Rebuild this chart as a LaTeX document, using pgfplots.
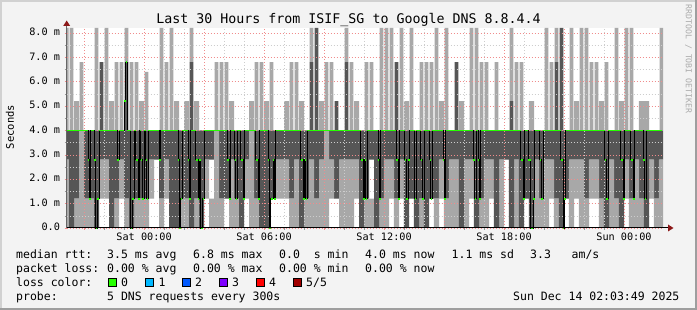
\documentclass[border=0pt]{standalone}
\usepackage{pgfplots}
\pgfplotsset{compat=1.18}
\usepackage{pgfplotstable}
\usepackage{fontspec}
\setmainfont{DejaVu Sans Mono}
\setmonofont{DejaVu Sans Mono}
\definecolor{canvas}{RGB}{243,243,243}
\definecolor{smokeL}{RGB}{168,168,168}
\definecolor{smokeD}{RGB}{86,86,86}
\definecolor{gridR}{RGB}{240,140,140}
\definecolor{gridG}{RGB}{205,205,205}
\definecolor{medG}{RGB}{38,255,0}
\definecolor{arrowR}{RGB}{140,24,24}
\definecolor{lossA}{RGB}{0,184,255}
\definecolor{lossB}{RGB}{0,89,255}
\definecolor{lossC}{RGB}{126,0,255}
\definecolor{lossD}{RGB}{255,0,0}
\definecolor{lossE}{RGB}{161,0,0}

% smoke below 4 ms: gap g, dark a, light b, gap c, dark d (stacked heights)
% smoke above 4 ms: base u, dark ud, light ul (narrow spikes), w (wide block 4-5.2)
\pgfplotstableread{
x g a b c d u ud ul w
-3.875 0 0 2.8 0 1.2 4 0 4.2 0
-3.625 0 4 0 0 0 4 0 4.2 0
-3.375 0 0 1.2 0 2.8 4 0 1.2 1.2
-3.125 0 0 4 0 0 4 0 2.8 0
-2.875 0 0 1.2 0 2.8 4 0 0 0
-2.625 0 0 1.2 0 2.8 4 0 0 0
-2.375 0 4 0 0 0 4 0 4.2 0
-2.125 1.2 0 1.6 0 1.2 4 2.8 0 0
-1.875 1.2 0 1.6 0 1.2 4 0 4.2 0
-1.625 0 4 0 0 0 4 0 1.2 1.2
-1.375 0 0 1.2 0 2.8 4 0 2.8 0
-1.125 1.2 0 1.6 0 1.2 4 0 2.8 0
-0.875 0 0 1.2 0 2.8 4 2.8 1.4 0
-0.625 0 4 0 0 0 4 0 2.8 0
-0.375 0 0 1.2 0 2.8 4 0 2.8 0
-0.125 0 0 1.2 0 2.8 4 0 1.2 1.2
0.125 0 0 1.2 0 2.8 4 0 2.4 0
0.375 1.2 0 1.6 0 1.2 4 0 0 0
0.625 2.8 0 0 0 1.2 4 0 0 0
0.875 0 0 1.2 0 2.8 4 0 4.2 0
1.125 1.2 0 1.6 0 1.2 4 0 2.8 0
1.375 0 4 0 0 0 4 0 4.2 0
1.625 0 4 0 0 0 4 0 1.2 1.2
1.875 0 0 1.2 0 2.8 4 0 0 0
2.125 0 0 1.2 0 2.8 4 0 1.2 1.2
2.375 0 4 0 0 0 4 2.8 1.4 0
2.625 0 0 1.2 0 2.8 4 0 1.2 1.2
2.875 0 4 0 0 0 4 0 0 0
3.125 1.2 0 1.6 0 1.2 4 0 0 0
3.375 0 0 1.2 1.6 1.2 4 0 0 0
3.625 0 0 4 0 0 4 0 2.8 0
3.875 0 0 1.2 0 2.8 4 0 2.8 0
4.125 1.2 0 0 0 2.8 4 0 2.8 0
4.375 0 0 2.8 0 1.2 4 0 1.2 1.2
4.625 0 0 1.2 0 2.8 4 0 0 0
4.875 0 4 0 0 0 4 0 0 0
5.125 1.2 0 1.6 0 1.2 4 0 0 0
5.375 0 0 4 0 0 4 0 1.2 1.2
5.625 0 0 1.2 0 2.8 4 0 2.8 0
5.875 0 4 0 0 0 4 0 2.8 0
6.125 0 4 0 0 0 4 0 1.2 1.2
6.375 1.2 0 0 0 2.8 4 0 2.8 0
6.625 1.2 0 1.6 0 1.2 4 0 0 0
6.875 1.2 0 1.6 0 1.2 4 0 0 0
7.125 1.2 0 1.6 0 1.2 4 0 1.2 1.2
7.375 0 0 1.2 0 2.8 4 0 2.8 0
7.625 0 0 2.8 0 1.2 4 0 2.8 0
7.875 0 4 0 0 0 4 0 1.2 1.2
8.125 0 0 1.2 0 2.8 4 0 0 0
8.375 0 0 2.8 0 1.2 4 2.8 1.4 0
8.625 0 0 1.2 0 2.8 4 4.2 0 0
8.875 0 0 2.8 0 1.2 4 0 1.2 1.2
9.125 0 0 4 0 0 4 0 2.8 0
9.375 1.2 0 1.6 0 1.2 4 0 2.8 0
9.625 1.2 0 0 0 2.8 4 1.2 0 0
9.875 0 0 2.8 0 1.2 4 0 0 0
10.125 0 0 2.8 0 1.2 4 2.8 1.4 0
10.375 0 0 2.8 0 1.2 4 0 2.8 0
10.625 1.2 0 1.6 0 1.2 4 0 1.2 1.2
10.875 0 4 0 0 0 4 0 0 0
11.125 0 0 1.2 0 2.8 4 0 2.8 0
11.375 0 0 1.2 1.6 1.2 4 0 2.8 0
11.625 0 4 0 0 0 4 0 0 0
11.875 0 0 1.2 0 2.8 4 0 4.2 0
12.125 0 0 2.8 0 1.2 4 0 4.2 0
12.375 1.2 0 1.6 0 1.2 4 0 4.2 0
12.625 0 0 1.2 0 2.8 4 2.8 0 0
12.875 1.2 0 1.6 0 1.2 4 0 4.2 0
13.125 0 4 0 0 0 4 0 1.2 1.2
13.375 1.2 0 0 0 2.8 4 0 4.2 0
13.625 0 4 0 0 0 4 0 0 0
13.875 0 0 1.2 0 2.8 4 0 2.8 0
14.125 0 4 0 0 0 4 0 2.8 0
14.375 1.2 0 0 0 2.8 4 0 2.8 0
14.625 0 0 1.2 0 2.8 4 0 4.2 0
14.875 1.2 0 1.6 0 1.2 4 0 1.2 1.2
15.125 0 0 1.2 0 2.8 4 0 4.2 0
15.375 0 0 2.8 0 1.2 4 0 0 0
15.625 0 0 2.8 0 1.2 4 2.8 0 0
15.875 0 4 0 0 0 4 0 1.2 1.2
16.125 0 0 2.8 0 1.2 4 0 0 0
16.375 1.2 0 1.6 0 1.2 4 0 4.2 0
16.625 0 4 0 0 0 4 0 4.2 0
16.875 0 0 1.2 0 2.8 4 0 2.8 0
17.125 0 0 2.8 0 1.2 4 0 2.8 0
17.375 1.2 0 1.6 0 1.2 4 0 0 0
17.625 0 4 0 0 0 4 0 2.8 0
17.875 0 0 2.8 0 1.2 4 0 0 0
18.125 2.8 0 0 0 1.2 4 0 0 0
18.375 0 4 0 0 0 4 1.2 3.0 0
18.625 0 0 2.8 0 1.2 4 0 2.8 0
18.875 0 4 0 0 0 4 0 2.8 0
19.125 1.2 0 0 0 2.8 4 0 0 0
19.375 0 4 0 0 0 4 0 1.2 1.2
19.625 0 0 2.8 0 1.2 4 0 0 0
19.875 0 0 1.2 0 2.8 4 0 0 0
20.125 0 0 2.8 0 1.2 4 0 4.2 0
20.375 1.2 0 1.6 0 1.2 4 0 2.8 0
20.625 0 0 1.2 0 2.8 4 2.8 1.4 0
20.875 0 4 0 0 0 4 4.2 0 0
21.125 1.2 0 0 0 2.8 4 0 0 0
21.375 0 0 2.8 0 1.2 4 0 4.2 0
21.625 1.2 0 1.6 0 1.2 4 0 1.2 1.2
21.875 0 0 2.8 0 1.2 4 0 4.2 0
22.125 0 0 1.2 0 2.8 4 0 4.2 0
22.375 1.2 0 1.6 0 1.2 4 0 2.8 0
22.625 1.2 0 1.6 0 1.2 4 0 2.8 0
22.875 0 0 1.2 0 2.8 4 0 1.2 1.2
23.125 0 4 0 0 0 4 0 2.8 0
23.375 0 0 2.8 0 1.2 4 0 0 0
23.625 0 0 1.2 0 2.8 4 0 4.2 0
23.875 0 4 0 0 0 4 0 1.2 1.2
24.125 1.2 0 1.6 0 1.2 4 0 4.2 0
24.375 0 0 1.2 0 2.8 4 0 4.2 0
24.625 0 0 2.8 0 1.2 4 0 0 0
24.875 0 0 1.2 0 2.8 4 0 1.2 1.2
25.125 0 4 0 0 0 4 0 1.2 1.2
25.375 1.2 0 1.6 0 1.2 4 0 0 0
25.625 0 0 1.2 0 2.8 4 0 0 0
25.875 0 0 2.8 0 1.2 4 0 4.2 0
}\smoke

% median rtt (ms), step series
\pgfplotstableread{
x y
-3.87 4.0
-2.8 2.8
-2.75 1.2
-2.67 4.0
-2.5 2.8
-2.42 0
-2.33 1.2
-2.25 4.0
-1.33 2.8
-1.25 4.0
-1.0 5.2
-0.92 6.8
-0.83 4.0
-0.67 0
-0.58 1.2
-0.5 4.0
-0.42 2.8
-0.3 1.2
-0.22 4.0
-0.17 2.8
-0.08 1.2
0.0 4.0
0.08 2.8
0.13 1.2
0.21 4.0
0.75 2.8
0.83 4.0
1.7 2.8
1.75 0
1.83 1.2
1.92 4.0
2.2 2.8
2.25 1.2
2.33 4.0
2.58 2.8
2.7 1.2
2.75 2.8
2.83 0
2.93 1.2
3.02 4.0
4.17 2.8
4.25 1.2
4.33 4.0
4.53 2.8
4.58 1.2
4.67 4.0
4.83 2.8
4.95 1.2
5.03 4.0
5.58 2.8
5.7 1.2
5.78 4.0
6.2 2.8
6.25 0
6.33 1.2
6.45 2.8
6.5 1.2
6.58 4.0
7.83 2.8
7.95 1.2
8.03 2.8
8.08 1.2
8.17 4.0
10.83 2.8
10.95 1.2
11.03 2.8
11.08 1.2
11.17 4.0
11.7 2.8
11.75 1.2
11.83 4.0
12.6 2.8
12.7 1.2
12.78 4.0
13.03 2.8
13.12 1.2
13.2 2.8
13.28 4.0
13.53 1.2
13.62 4.0
13.83 2.8
13.92 1.2
14.0 4.0
14.28 2.8
14.33 1.2
14.42 4.0
14.95 2.8
15.0 1.2
15.08 4.0
16.45 2.8
16.53 1.2
16.62 4.0
16.7 2.8
16.75 1.2
16.83 4.0
18.83 2.8
18.95 1.2
19.03 4.0
19.2 2.8
19.33 0
19.45 1.2
19.53 4.0
19.78 2.8
19.87 1.2
19.95 4.0
20.83 2.8
20.95 0
21.0 1.2
21.08 4.0
23.03 2.8
23.12 1.2
23.2 4.0
23.83 2.8
23.95 1.2
24.03 4.0
24.33 2.8
24.45 1.2
24.53 4.0
24.95 2.8
25.03 1.2
25.12 4.0
25.9 4.0
}\median

\pgfplotsset{
  geom/.style={at={(66.7pt,82pt)}, anchor=south west, scale only axis,
    width=596.3pt, height=200pt, xmin=-3.87, xmax=25.95, ymin=0, ymax=8.2},
}

\begin{document}
\begin{tikzpicture}[x=1pt,y=1pt]
\fill[canvas] (0,0) rectangle (697,310);
\fill[black!18] (0,308) rectangle (697,310);
\fill[black!18] (0,0) rectangle (2,310);
\fill[black!38] (0,0) rectangle (697,2);
\fill[black!38] (695,0) rectangle (697,310);
\fill[white] (66.7,82) rectangle (663,282);

\begin{axis}[geom, hide axis, ybar stacked, bar width=0.255, bar shift=0pt]
\addplot[draw=none, fill=none] table[x=x,y=g]{\smoke};
\addplot[draw=none, fill=smokeD] table[x=x,y=a]{\smoke};
\addplot[draw=none, fill=smokeL] table[x=x,y=b]{\smoke};
\addplot[draw=none, fill=none] table[x=x,y=c]{\smoke};
\addplot[draw=none, fill=smokeD] table[x=x,y=d]{\smoke};
\addplot[draw=none, fill=smokeL] table[x=x,y=w]{\smoke};
\end{axis}

\begin{axis}[geom, hide axis, ybar stacked, bar width=0.19, bar shift=0pt]
\addplot[draw=none, fill=none] table[x=x,y=u]{\smoke};
\addplot[draw=none, fill=smokeD] table[x=x,y=ud]{\smoke};
\addplot[draw=none, fill=smokeL] table[x=x,y=ul]{\smoke};
\end{axis}

\begin{axis}[geom, clip=false,
  axis line style={draw=none},
  xtick={-3,0,...,24},
  xticklabels={,Sat 00:00,,Sat 06:00,,Sat 12:00,,Sat 18:00,,Sun 00:00},
  minor x tick num=2,
  ytick={0,1,...,8},
  yticklabels={0.0,1.0 m,2.0 m,3.0 m,4.0 m,5.0 m,6.0 m,7.0 m,8.0 m},
  minor y tick num=1,
  grid=both,
  major grid style={gridR, dash pattern=on 1pt off 2pt, line width=0.6pt},
  minor grid style={gridG, dash pattern=on 1pt off 2pt, line width=0.6pt},
  tick align=outside, xtick pos=bottom, ytick pos=left,
  major tick length=2pt, minor tick length=2pt,
  major tick style={gridR, line width=0.6pt},
  minor tick style={black!40, line width=0.6pt},
  xticklabel style={font=\fontsize{10.2}{12}\selectfont, anchor=base, inner sep=0pt, yshift=-11pt},
  yticklabel style={font=\fontsize{10.2}{12}\selectfont, anchor=mid east, inner sep=0pt, xshift=-4.5pt},
]
\addplot[black, line width=0.8pt, const plot mark left] table[x=x,y=y]{\median};
\addplot[medG, line width=1.6pt, jump mark left] table[x=x,y=y]{\median};
\end{axis}

% axes with arrows
\draw[black, line width=1pt] (66.7,82) -- (668,82);
\draw[black!60, line width=0.8pt] (66.7,82) -- (66.7,284);
\fill[arrowR] (668,78.5) -- (673.5,82) -- (668,85.5) -- cycle;
\fill[arrowR] (63.2,284) -- (66.7,289.5) -- (70.2,284) -- cycle;

% titles
\node[font=\fontsize{13.3}{15}\selectfont, anchor=base] at (348.5,286.5) {Last 30 Hours from ISIF\_SG to Google DNS 8.8.4.4};
\node[font=\fontsize{10.5}{12}\selectfont, rotate=90, anchor=center] at (10,183) {Seconds};
\node[font=\fontsize{8.2}{10}\selectfont, rotate=-90, anchor=center, text=black!33] at (688.5,251) {RRDTOOL / TOBI OETIKER};

% legend
\begin{scope}[every node/.style={anchor=base west, inner sep=0pt, font=\fontsize{11.5}{13}\selectfont}]
\node at (16,51.5) {median rtt:};
\node at (107,51.5) {3.5 ms avg};
\node at (193,51.5) {6.8 ms max};
\node at (279,51.5) {0.0~~s min};
\node at (365,51.5) {4.0 ms now};
\node at (451.5,51.5) {1.1 ms sd};
\node at (530,51.5) {3.3};
\node at (571.5,51.5) {am/s};
\node at (16,37.5) {packet loss:};
\node at (107,37.5) {0.00 \% avg};
\node at (193,37.5) {0.00 \% max};
\node at (279,37.5) {0.00 \% min};
\node at (365,37.5) {0.00 \% now};
\node at (16,23.5) {loss color:};
\node at (121,23.5) {0};
\node at (158.5,23.5) {1};
\node at (195,23.5) {2};
\node at (232,23.5) {3};
\node at (269,23.5) {4};
\node at (306,23.5) {5/5};
\node at (16,9.5) {probe:};
\node at (107,9.5) {5 DNS requests every 300s};
\node at (513,9.5) {Sun Dec 14 02:03:49 2025};
\end{scope}
\begin{scope}[draw=black, line width=0.6pt]
\filldraw[fill=medG] (108.5,24) rectangle (116.5,32);
\filldraw[fill=lossA] (145.5,24) rectangle (153.5,32);
\filldraw[fill=lossB] (182.5,24) rectangle (190.5,32);
\filldraw[fill=lossC] (219.5,24) rectangle (227.5,32);
\filldraw[fill=lossD] (256.5,24) rectangle (264.5,32);
\filldraw[fill=lossE] (293,24) rectangle (301,32);
\end{scope}
\end{tikzpicture}
\end{document}
